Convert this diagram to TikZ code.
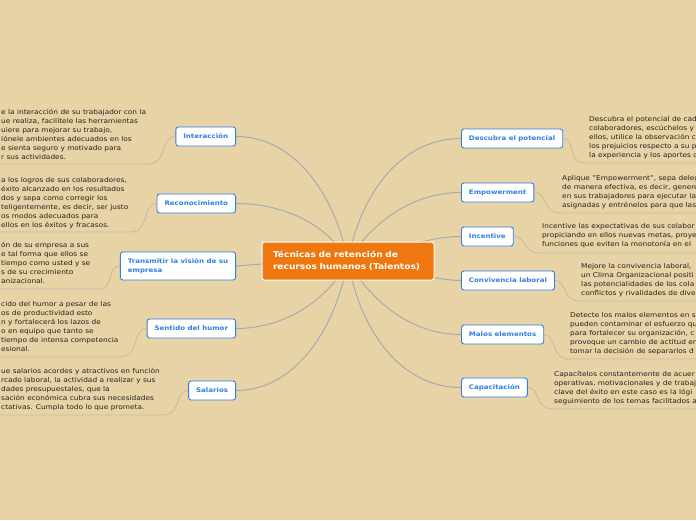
\documentclass[tikz,border=0pt]{standalone}
\usepackage{fontspec}
\setmainfont{DejaVu Sans}[FakeStretch=1.12]
\definecolor{bgtan}{HTML}{E8D3A7}
\definecolor{branchgray}{HTML}{A7AAAE}
\definecolor{notegray}{HTML}{C4BBA6}
\definecolor{nodeblue}{HTML}{2F7FE0}
\definecolor{centerorange}{HTML}{EE780F}
\definecolor{notetext}{HTML}{222222}
\tikzset{
  branchline/.style={draw=branchgray, line width=1pt},
  noteline/.style={draw=notegray, line width=0.9pt},
  topic/.style={draw=nodeblue, line width=0.9pt, fill=white, rounded corners=2.5pt,
    text=nodeblue, font=\fontsize{6.3}{8.8}\selectfont\bfseries, minimum height=19pt,
    inner xsep=7.5pt, inner ysep=0pt, align=left},
  centralnode/.style={draw=white, line width=1pt, fill=centerorange, rounded corners=2.5pt,
    text=white, font=\fontsize{8.1}{12.5}\selectfont\bfseries, minimum width=172pt,
    minimum height=38pt, align=left, text width=150pt},
  notetxt/.style={text=notetext, font=\fontsize{6.6}{9}\selectfont, align=left,
    inner sep=0pt, anchor=north west}
}
\begin{document}
\begin{tikzpicture}[x=1pt, y=-1pt]
\fill[bgtan] (0,0) rectangle (696,520);
\useasboundingbox (0,0) rectangle (696,520);

% topic nodes
\node[topic, anchor=east] (n1) at (236,136.5) {Interacción};
\node[topic, anchor=east] (n2) at (236,203.5) {Reconocimiento};
\node[topic, anchor=east, minimum height=28pt] (n3) at (236,266) {Transmitir la visión de su\\empresa};
\node[topic, anchor=east] (n4) at (236,328.5) {Sentido del humor};
\node[topic, anchor=east] (n5) at (236,390.5) {Salarios};
\node[topic, anchor=west] (n6) at (461,138.5) {Descubra el potencial};
\node[topic, anchor=west] (n7) at (461,192.5) {Empowerment};
\node[topic, anchor=west] (n8) at (461,236.5) {Incentive};
\node[topic, anchor=west] (n9) at (461,280.5) {Convivencia laboral};
\node[topic, anchor=west] (n10) at (461,334.5) {Malos elementos};
\node[topic, anchor=west] (n11) at (461,387.5) {Capacitación};

\coordinate (cc) at (348,261);

% branch connectors (drawn before central node)
\draw[branchline] (n1.east) .. controls (295,136.5) and (335,195) .. (cc);
\draw[branchline] (n2.east) .. controls (285,203.5) and (328,225) .. (cc);
\draw[branchline] (n3.east) .. controls (250,265) and (262,263) .. (cc);
\draw[branchline] (n4.east) .. controls (285,328.5) and (328,300) .. (cc);
\draw[branchline] (n5.east) .. controls (295,390.5) and (335,330) .. (cc);
\draw[branchline] (n6.west) .. controls (400,138.5) and (360,195) .. (cc);
\draw[branchline] (n7.west) .. controls (410,192.5) and (370,225) .. (cc);
\draw[branchline] (n8.west) .. controls (425,236.5) and (405,250) .. (cc);
\draw[branchline] (n9.west) .. controls (445,280.5) and (425,276) .. (cc);
\draw[branchline] (n10.west) .. controls (410,334.5) and (370,300) .. (cc);
\draw[branchline] (n11.west) .. controls (400,387.5) and (360,330) .. (cc);

\node[centralnode] (c) at (348,261) {Técnicas de retención de\\recursos humanos (Talentos)};

% note texts, left side
\node[notetxt] (t1) at (1,109) {e la interacción de su trabajador con la\\ue realiza, facilítele las herramientas\\uiere para mejorar su trabajo,\\iónele ambientes adecuados en los\\e sienta seguro y motivado para\\r sus actividades.};
\node[notetxt] (t2) at (1,177) {a los logros de sus colaboradores,\\éxito alcanzado en los resultados\\dos y sepa como corregir los\\teligentemente, es decir, ser justo\\os modos adecuados para\\ ellos en los éxitos y fracasos.};
\node[notetxt] (t3) at (1,242) {ón de su empresa a sus\\e tal forma que ellos se\\tiempo como usted y se\\s de su crecimiento\\anizacional.};
\node[notetxt] (t4) at (1,301) {cido del humor a pesar de las\\os de productividad esto\\n y fortalecerá los lazos de\\o en equipo que tanto se\\tiempo de intensa competencia\\esional.};
\node[notetxt] (t5) at (1,368) {ue salarios acordes y atractivos en función\\rcado laboral, la actividad a realizar y sus\\dades presupuestales, que la\\sación económica cubra sus necesidades\\ctativas. Cumpla todo lo que prometa.};

% note texts, right side
\node[notetxt] (t6) at (589,116) {Descubra el potencial de cad\\colaboradores, escúchelos y\\ellos, utilice la observación c\\los prejuicios respecto a su p\\la experiencia y los aportes c};
\node[notetxt] (t7) at (562,175) {Aplique "Empowerment", sepa deleg\\de manera efectiva, es decir, genere\\en sus trabajadores para ejecutar la\\asignadas y entrénelos para que las};
\node[notetxt] (t8) at (542,223) {Incentive las expectativas de sus colabor\\propiciando en ellos nuevas metas, proye\\funciones que eviten la monotonía en el};
\node[notetxt] (t9) at (581,263) {Mejore la convivencia laboral,\\un Clima Organizacional positi\\las potencialidades de los cola\\conflictos y rivalidades de dive};
\node[notetxt] (t10) at (570,312) {Detecte los malos elementos en s\\pueden contaminar el esfuerzo qu\\para fortalecer su organización, c\\provoque un cambio de actitud en\\tomar la decisión de separarlos d};
\node[notetxt] (t11) at (554,371) {Capacítelos constantemente de acuer\\operativas, motivacionales y de trabaj\\clave del éxito en este caso es la lógi\\seguimiento de los temas facilitados a};

% note underlines
\coordinate (u1a) at (148,164); \coordinate (u1b) at (-5,164);
\coordinate (u2a) at (130,232); \coordinate (u2b) at (-5,232);
\coordinate (u3a) at (100,289); \coordinate (u3b) at (-5,289);
\coordinate (u4a) at (120,357); \coordinate (u4b) at (-5,357);
\coordinate (u5a) at (163,415); \coordinate (u5b) at (-5,415);
\coordinate (u6a) at (585,163); \coordinate (u6b) at (701,163);
\coordinate (u7a) at (560,213); \coordinate (u7b) at (701,213);
\coordinate (u8a) at (540,253); \coordinate (u8b) at (701,253);
\coordinate (u9a) at (580,301); \coordinate (u9b) at (701,301);
\coordinate (u10a) at (569,359); \coordinate (u10b) at (701,359);
\coordinate (u11a) at (553,409); \coordinate (u11b) at (701,409);

\draw[noteline] (n1.west) .. controls (160,136.5) and (168,164) .. (u1a) -- (u1b);
\draw[noteline] (n2.west) .. controls (142,203.5) and (150,232) .. (u2a) -- (u2b);
\draw[noteline] (n3.west) .. controls (106,266) and (114,289) .. (u3a) -- (u3b);
\draw[noteline] (n4.west) .. controls (132,328.5) and (140,357) .. (u4a) -- (u4b);
\draw[noteline] (n5.west) .. controls (174,390.5) and (182,415) .. (u5a) -- (u5b);
\draw[noteline] (n6.east) .. controls (576,138.5) and (567,163) .. (u6a) -- (u6b);
\draw[noteline] (n7.east) .. controls (548,192.5) and (542,213) .. (u7a) -- (u7b);
\draw[noteline] (n8.east) .. controls (527,236.5) and (522,253) .. (u8a) -- (u8b);
\draw[noteline] (n9.east) .. controls (567,280.5) and (562,301) .. (u9a) -- (u9b);
\draw[noteline] (n10.east) .. controls (556,334.5) and (551,359) .. (u10a) -- (u10b);
\draw[noteline] (n11.east) .. controls (540,387.5) and (535,409) .. (u11a) -- (u11b);
\end{tikzpicture}
\end{document}
